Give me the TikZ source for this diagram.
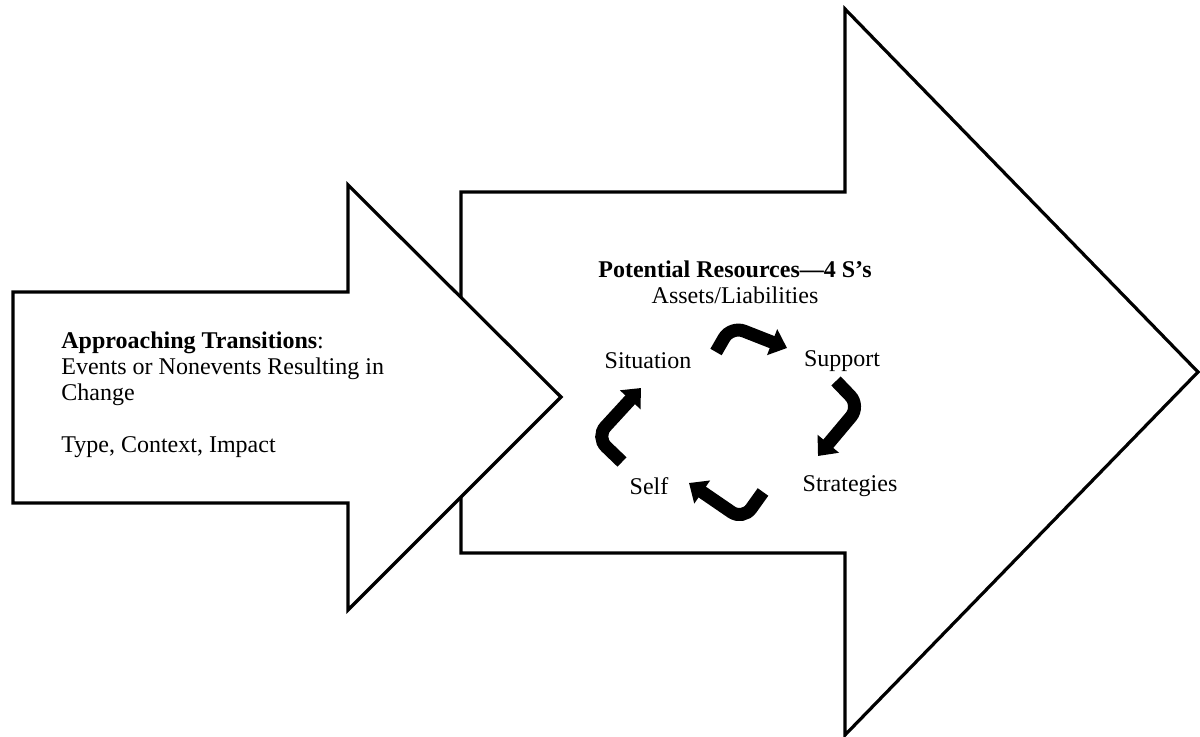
\documentclass[tikz,border=0pt]{standalone}
\usepackage{fontspec}
\setmainfont{Liberation Serif}
\usepackage{tikz}
\usetikzlibrary{positioning}
\usetikzlibrary{arrows.meta}

\tikzset{
	bigarrow/.style={draw=black, line width=1.6pt, fill=white, line join=miter},
	cyclearrow/.style={line width=6.5pt, rounded corners=7pt, line cap=butt,
		-{Triangle[width=13.5pt, length=8pt]}},
	slabel/.style={font=\fontsize{12pt}{13pt}\selectfont, inner sep=0pt}
}

\begin{document}
\begin{tikzpicture}[x=0.5pt, y=-0.5pt]
	
	\useasboundingbox (0,0) rectangle (1200,737);
	
	% outline points of the resource arrow (right, large)
	\coordinate (R1) at (461,192);
	\coordinate (R2) at (845,192);
	\coordinate (R3) at (845,9);
	\coordinate (R4) at (1198,372);
	\coordinate (R5) at (845,735);
	\coordinate (R6) at (845,553);
	\coordinate (R7) at (461,553);
	
	% outline points of the transition arrow (left, small)
	\coordinate (T1) at (13,292);
	\coordinate (T2) at (348,292);
	\coordinate (T3) at (348,185);
	\coordinate (T4) at (561,397);
	\coordinate (T5) at (348,610);
	\coordinate (T6) at (348,503);
	\coordinate (T7) at (13,503);
	
	%%%%%%%%%%%%%%%%%%%%%%%%%%%%%%%%%%%%%%%%%%%%%%%%%%%%%%%%%%%%%%
	\draw[bigarrow] (R1) -- (R2) -- (R3) -- (R4) -- (R5) -- (R6) -- (R7) -- cycle;
	\draw[bigarrow] (T1) -- (T2) -- (T3) -- (T4) -- (T5) -- (T6) -- (T7) -- cycle;
	
	% texts
	\node[slabel, anchor=north west, align=left] (trans) at (61,331)
		{\textbf{Approaching Transitions}:\\
		 Events or Nonevents Resulting in\\
		 Change\\[13pt]
		 Type, Context, Impact};
	
	\node[slabel, align=center] (res) at (735,282)
		{\textbf{Potential Resources---4 S’s}\\ Assets/Liabilities};
	
	\node[slabel] (situation)  at (648,361) {Situation};
	\node[slabel] (support)    at (842,361) {Support};
	\node[slabel] (strategies) at (850,486) {Strategies};
	\node[slabel] (self)       at (649,486) {Self};
	
	% the four bent arrows of the cycle: tail, bend, tip
	\coordinate (A1) at (716,352); \coordinate (B1) at (731,326); \coordinate (C1) at (787,348);
	\coordinate (A2) at (836,381); \coordinate (B2) at (860,406); \coordinate (C2) at (818,456);
	\coordinate (A3) at (763,492); \coordinate (B3) at (743,520); \coordinate (C3) at (689,483);
	\coordinate (A4) at (622,462); \coordinate (B4) at (596,437); \coordinate (C4) at (641,388);
	
	\foreach \i in {1,...,4}{
		\draw[cyclearrow] (A\i) -- (B\i) -- (C\i);
	}
	
\end{tikzpicture}
\end{document}
